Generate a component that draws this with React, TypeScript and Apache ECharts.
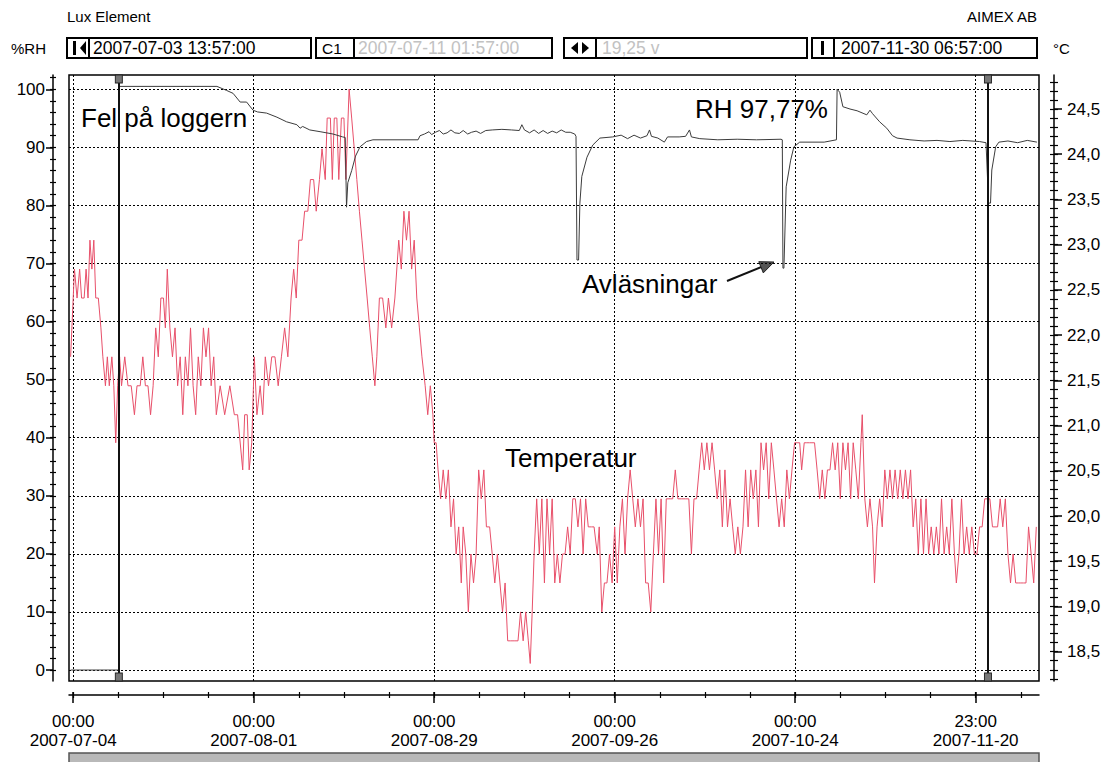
import React, { useEffect, useRef } from "react";
import * as echarts from "echarts";

// ---------- data ----------
const tickDays = [0, 28, 56, 84, 112, 140];
const tickTimes = ["00:00", "00:00", "00:00", "00:00", "00:00", "23:00"];
const tickDates = ["2007-07-04", "2007-08-01", "2007-08-29", "2007-09-26", "2007-10-24", "2007-11-20"];
const rhTicks = [0, 10, 20, 30, 40, 50, 60, 70, 80, 90, 100];
const tempTicks = [18.5, 19.0, 19.5, 20.0, 20.5, 21.0, 21.5, 22.0, 22.5, 23.0, 23.5, 24.0, 24.5];
const cursorDays = [7.08, 141.9];

// temperature (°C) – day offset from 2007-07-04 00:00
const tempDay = [
  -0.4, 0.2, 0.6, 1.0, 1.3, 1.7, 2.0, 2.3, 2.6, 2.9, 3.2, 3.5, 3.9, 4.3, 4.6, 5.0, 5.3, 5.6, 6.0, 6.3, 6.6, 6.9, 7.2,
  7.5, 8.0, 8.5, 9.0, 9.5, 9.9, 10.4, 10.8, 11.2, 11.6, 12.0, 12.4, 12.8, 13.2, 13.6, 14.0, 14.3, 14.6, 15.0, 15.4, 15.8,
  16.2, 16.6, 17.0, 17.4, 17.8, 18.2, 18.6, 19.0, 19.4, 19.8, 20.2, 20.6, 21.0, 21.4, 21.8, 22.2, 22.8, 23.5, 24.3, 25.0,
  25.5, 26.3, 26.6, 27.0, 27.3, 27.7, 28.1, 28.5, 29.0, 29.4, 29.8, 30.3, 30.8, 31.3, 31.8, 32.3, 32.8, 33.3,
  33.8, 34.2, 34.6, 35.0, 35.5, 35.9, 36.4, 36.8, 37.3, 37.7, 38.2, 38.6, 39.1, 39.4, 39.9, 40.2, 40.5, 40.9, 41.2, 41.6,
  42.0, 42.3, 42.8, 43.2, 43.6, 44.0, 44.4, 44.8, 45.2, 45.6, 46.0, 46.4, 46.8, 47.1, 47.5, 48.0, 48.5, 48.9, 49.4, 49.9,
  50.5, 50.9, 51.3, 51.7, 52.1, 52.5, 52.9, 53.3, 53.7, 54.1, 54.6, 55.0, 55.4, 55.8,
  56.0, 56.3, 56.6, 57.0, 57.4, 57.8, 58.2, 58.6, 59.0, 59.4, 59.8, 60.2, 60.5, 60.9, 61.3, 61.7, 62.1, 62.5, 62.9, 63.3,
  63.7, 64.1, 64.6, 65.0, 65.4, 65.8, 66.2, 66.6, 67.0, 67.4, 67.8, 68.4, 69.0, 69.4, 69.8, 70.2, 70.6, 70.9, 71.2, 71.5,
  71.9, 72.3, 72.7, 73.1, 73.5, 73.9, 74.3, 74.7, 75.1, 75.5, 75.9, 76.3, 76.7, 77.1, 77.5, 77.9, 78.3, 78.7, 79.1, 79.5,
  79.9, 80.4, 80.8, 81.3, 81.6, 82.0, 82.4, 82.8, 83.2, 83.6, 84.0, 84.4, 84.8, 85.2, 85.6, 86.0, 86.4, 86.8, 87.2, 87.6,
  88.0, 88.4, 88.8, 89.2, 89.6, 90.0, 90.4, 90.8, 91.2, 91.6, 92.0, 92.6, 93.0, 93.4, 93.8, 94.4, 95.0, 95.5, 95.9, 96.3,
  96.7, 97.1, 97.5, 97.9, 98.3, 98.7, 99.1, 99.5, 99.9, 100.3, 100.7, 101.1, 101.5, 101.9, 102.3, 102.7, 103.1, 103.5,
  103.9, 104.3, 104.7, 105.1, 105.5, 105.9, 106.3, 106.7, 107.1, 107.5, 107.9, 108.3, 108.7, 109.1, 109.5, 109.9, 110.3,
  110.7, 111.1, 111.5, 111.9, 112.3, 112.7, 113.0, 113.4, 113.8, 114.2, 114.6, 115.0, 115.4, 115.8, 116.2, 116.6, 117.0,
  117.4, 117.8, 118.2, 118.6, 119.0, 119.4, 119.8, 120.2, 120.6, 121.0, 121.4, 121.8, 122.2, 122.4, 122.8, 123.2, 123.6,
  124.0, 124.3, 124.7, 125.1, 125.5, 125.9, 126.3, 126.7, 127.1, 127.5, 127.9, 128.3, 128.7, 129.1, 129.5, 129.9, 130.3,
  130.7, 131.1, 131.5, 131.9, 132.3, 132.7, 133.1, 133.5, 133.9, 134.3, 134.7, 135.1, 135.5, 135.9, 136.3, 136.7, 137.0,
  137.4, 137.8, 138.2, 138.6, 139.0, 139.4, 139.8, 140.2, 140.6, 141.0, 141.4, 141.8, 142.2, 142.6, 143.0, 143.4, 143.8,
  144.2, 144.6, 145.0, 145.4, 145.8, 146.2, 146.6, 147.0, 147.4, 147.8, 148.2, 148.6, 149.0, 149.4,
];
const tempC = [
  21.76, 22.73, 22.41, 22.73, 22.41, 22.41, 22.73, 22.41, 23.05, 22.73, 23.05, 22.41, 22.41, 22.08, 21.76, 21.44, 21.76, 21.44, 21.76, 21.44, 20.81, 21.44, 21.76,
  21.44, 21.76, 21.44, 21.44, 21.12, 21.44, 21.44, 21.76, 21.44, 21.44, 21.12, 21.44, 22.08, 21.76, 22.41, 22.41, 22.08, 22.73, 22.08, 21.76, 22.08,
  21.44, 21.76, 21.12, 21.76, 21.44, 22.08, 21.44, 21.12, 21.76, 21.44, 22.08, 21.76, 22.08, 21.44, 21.76, 21.12, 21.44, 21.12, 21.44, 21.12,
  21.12, 20.51, 21.12, 21.12, 20.51, 20.81, 21.76, 21.12, 21.44, 21.12, 21.76, 21.44, 21.76, 21.76, 21.44, 21.76, 22.08, 21.76,
  22.41, 22.73, 22.41, 23.05, 23.05, 23.37, 23.37, 23.72, 23.72, 23.37, 23.72, 24.06, 23.72, 24.40, 24.40, 23.72, 24.40, 24.40, 23.72, 24.40,
  24.40, 23.72, 24.72, 24.40, 24.06, 23.72, 23.37, 23.05, 22.73, 22.41, 22.08, 21.76, 21.44, 21.76, 22.41, 22.41, 22.08, 22.41, 22.08, 22.41,
  23.05, 22.73, 23.37, 23.05, 23.37, 22.73, 23.05, 22.41, 22.08, 21.76, 21.44, 21.12, 21.44, 21.12,
  20.81, 20.81, 20.51, 20.19, 20.51, 20.19, 20.51, 19.88, 20.19, 19.58, 19.88, 19.26, 19.88, 19.58, 18.94, 19.58, 19.26, 19.58, 20.51, 20.19,
  20.51, 19.88, 19.88, 19.58, 19.26, 19.58, 19.26, 18.94, 19.26, 18.62, 18.62, 18.62, 18.62, 18.94, 18.62, 18.94, 18.62, 18.37, 18.94, 19.58,
  20.19, 19.58, 20.19, 19.26, 20.19, 19.58, 20.19, 19.26, 19.58, 19.26, 19.58, 19.58, 19.88, 19.58, 20.19, 20.19, 19.88, 20.19, 19.58, 20.19,
  19.88, 19.88, 19.88, 19.58, 19.88, 18.94, 19.26, 19.26, 19.58, 19.26, 19.88, 19.26, 19.88, 20.19, 19.58, 20.19, 20.51, 20.19, 19.88, 20.19,
  19.88, 20.19, 19.26, 19.26, 18.94, 19.58, 20.19, 19.58, 20.19, 19.26, 20.19, 20.19, 20.19, 20.51, 20.19, 20.19, 20.19, 20.19, 19.58, 20.19,
  20.19, 20.51, 20.81, 20.51, 20.81, 20.51, 20.81, 20.51, 20.19, 20.51, 19.88, 20.51, 19.88, 20.19, 19.88, 19.58, 19.88, 19.58,
  19.88, 20.51, 19.88, 20.51, 20.19, 20.51, 19.88, 20.81, 20.51, 20.81, 20.19, 20.81, 20.51, 20.19, 19.88, 20.19, 19.88,
  20.51, 20.19, 20.51, 20.81, 20.81, 20.81, 20.51, 20.81, 20.81, 20.81, 20.81, 20.81, 20.51, 20.19, 20.51, 20.19, 20.51,
  20.51, 20.81, 20.51, 20.81, 20.19, 20.81, 20.51, 20.81, 20.19, 20.81, 20.51, 20.19, 20.81, 21.12, 20.19, 19.88, 20.19,
  19.88, 19.26, 19.88, 20.19, 19.88, 20.51, 20.19, 20.51, 20.19, 20.51, 20.19, 20.51, 20.19, 20.51, 20.19, 20.51, 19.88,
  20.19, 19.58, 20.19, 19.58, 20.19, 19.58, 19.88, 19.58, 19.88, 19.58, 20.19, 19.58, 19.88, 19.58, 20.19, 19.58, 19.26,
  19.58, 20.19, 19.58, 19.88, 19.58, 19.88, 19.58, 19.58, 19.88, 19.88, 20.19, 20.19, 20.19, 19.88, 19.88, 19.88, 20.19,
  19.88, 20.19, 19.58, 19.26, 19.58, 19.26, 19.26, 19.26, 19.26, 19.26, 19.88, 19.58, 19.26, 19.88,
];

// relative humidity (%RH)
const rhDay = [
  -0.4, 7.08, 7.1, 22.3, 23.8, 24.8, 25.9, 26.9, 27.9, 28.6, 30.0, 31.6, 33.1, 34.7, 35.2, 35.6, 36.7, 38.3, 40.3, 41.8,
  42.2, 42.4, 42.6, 43.2, 43.8, 44.5, 45.5, 46.5, 53.5, 53.8, 54.5, 55.2, 55.6, 56.2, 56.8, 57.4, 58.0, 58.6, 59.2, 59.9,
  60.5, 61.2, 61.8, 62.5, 63.2, 64.0, 65.0, 66.5, 68.0, 69.2, 69.6, 70.0, 70.8, 71.5, 72.2, 72.9, 73.6, 74.3, 75.0, 75.7,
  76.4, 77.1, 77.8, 78.0, 78.15, 78.4, 78.6, 78.9, 79.7, 80.6, 81.7, 83.7, 85.0, 86.0, 87.0, 88.0, 89.0, 89.4, 89.7, 90.7,
  91.7, 92.2, 94.0, 95.0, 95.6, 95.9, 97.2, 100.0, 103.0, 106.0, 109.8, 110.0, 110.1, 110.25, 110.6, 111.3, 111.8, 112.7,
  116.5, 118.4, 118.5, 118.9, 119.4, 120.5, 121.6, 123.1, 123.6, 124.0, 125.1, 126.2, 127.1, 127.8, 129.8, 132.0, 134.0,
  136.0, 138.0, 140.6, 141.6, 142.0, 142.3, 142.5, 143.1, 143.6, 145.0, 146.5, 148.0, 149.5,
];
const rhPct = [
  0, 0, 100.5, 100.5, 99.8, 99.3, 97.8, 97.8, 96.4, 96.1, 95.9, 95.2, 94.4, 93.9, 93.3, 93.6, 93.0, 92.7, 92.3, 91.8,
  91.7, 79.7, 83.9, 86.0, 88.5, 90.1, 91.0, 91.3, 91.3, 92.0, 92.3, 92.7, 92.2, 92.6, 92.9, 92.3, 92.5, 93.0, 92.5, 92.4,
  92.9, 92.3, 92.6, 92.8, 92.4, 92.9, 93.0, 93.1, 93.0, 92.9, 93.9, 93.0, 92.5, 93.0, 92.4, 92.9, 92.4, 92.8, 92.5, 93.0,
  92.6, 92.6, 92.3, 91.9, 70.6, 70.6, 80.4, 85.0, 88.3, 90.4, 91.6, 91.8, 92.1, 91.5, 92.1, 91.6, 92.0, 93.0, 91.9, 91.6,
  90.9, 91.8, 91.8, 91.9, 93.0, 91.8, 91.5, 91.3, 91.4, 91.3, 91.4, 91.3, 69.2, 69.2, 83.2, 87.8, 90.1, 90.9,
  90.9, 91.3, 100.0, 99.5, 97.0, 96.6, 96.3, 95.6, 96.4, 95.8, 94.4, 93.3, 92.0, 91.6, 91.3, 91.1, 91.2,
  91.0, 91.2, 91.0, 90.8, 80.4, 80.4, 86.1, 90.1, 90.9, 91.1, 90.8, 91.2, 90.9,
];

// ---------- layout constants ----------
const X_MIN = -0.65;
const X_MAX = 149.82;
const RH_MIN = -1.89;
const RH_MAX = 102.46;
const T_MIN = 18.176;
const T_MAX = 24.876;
const FONT = "'Liberation Sans', Arial, Helvetica, sans-serif";

function range(a: number, b: number, step: number): number[] {
  const out: number[] = [];
  const n = Math.round((b - a) / step);
  for (let i = 0; i <= n; i++) out.push(Math.round((a + i * step) * 1000) / 1000);
  return out;
}

const xMinor = range(0, 147, 7);
const rhMinor = range(0, 102, 2);
const tMinor = range(18.2, 24.8, 0.1);

function txt(x: number, y: number, text: string, size: number, opts: any = {}) {
  return {
    type: "text",
    x,
    y,
    silent: true,
    style: {
      text,
      fill: opts.fill || "#000",
      font: `${size}px ${FONT}`,
      textAlign: opts.align || "left",
      textVerticalAlign: "middle",
    },
  };
}
function box(x: number, y: number, w: number, h: number) {
  return { type: "rect", shape: { x, y, width: w, height: h }, style: { fill: "none", stroke: "#000", lineWidth: 2 }, silent: true };
}
function vline(x: number, y1: number, y2: number, w = 2) {
  return { type: "line", shape: { x1: x, y1, x2: x, y2 }, style: { stroke: "#000", lineWidth: w }, silent: true };
}

export default function App() {
  const ref = useRef<HTMLDivElement>(null);
  useEffect(() => {
    if (!ref.current) return;
    const chart = echarts.init(ref.current, undefined, { renderer: "svg" });

    const tempData = tempDay.map((d, i) => [d, tempC[i]]);
    const rhData = rhDay.map((d, i) => [d, rhPct[i]]);

    const axisLineStyle = { color: "#000", width: 1.5 };
    const tickStyle = { color: "#000", width: 1.2 };
    const noLine = { show: false, onZero: false };
    const withLine = { show: true, onZero: false, lineStyle: axisLineStyle };

    const baseX = {
      type: "value",
      min: X_MIN,
      max: X_MAX,
      position: "bottom",
      offset: 14,
      splitLine: { show: false },
      axisLabel: { show: false },
      axisLine: noLine,
    };
    const baseRH = {
      type: "value",
      min: RH_MIN,
      max: RH_MAX,
      position: "left",
      offset: 16,
      splitLine: { show: false },
      axisLabel: { show: false },
      axisLine: noLine,
    };
    const baseT = {
      type: "value",
      min: T_MIN,
      max: T_MAX,
      position: "right",
      offset: 15,
      splitLine: { show: false },
      axisLabel: { show: false },
      axisLine: noLine,
    };

    const gridLines = [
      ...rhTicks.map((v) => ({ yAxis: v })),
      ...tickDays.map((d) => ({ xAxis: d })),
    ];

    const option: any = {
      animation: false,
      backgroundColor: "#ffffff",
      textStyle: { fontFamily: FONT },
      grid: { left: 69, right: 70, top: 75, bottom: 81, show: true, borderColor: "#000", borderWidth: 1.5, containLabel: false },
      xAxis: [
        { ...baseX, axisLine: withLine, axisTick: { show: true, length: 3, customValues: xMinor, lineStyle: tickStyle } },
        { ...baseX, axisTick: { show: true, inside: true, length: 3, customValues: xMinor, lineStyle: tickStyle } },
        {
          ...baseX,
          axisTick: { show: true, length: 8, customValues: tickDays, lineStyle: { color: "#000", width: 1.5 } },
          axisLabel: {
            show: true,
            customValues: tickDays,
            margin: 17,
            color: "#000",
            fontSize: 17,
            lineHeight: 19,
            fontFamily: FONT,
            formatter: (v: number) => {
              const i = tickDays.indexOf(Math.round(v));
              return i >= 0 ? `${tickTimes[i]}\n${tickDates[i]}` : "";
            },
          },
        },
        { ...baseX, axisTick: { show: true, inside: true, length: 3, customValues: tickDays, lineStyle: { color: "#000", width: 1.5 } } },
      ],
      yAxis: [
        { ...baseRH, axisLine: withLine, axisTick: { show: true, length: 3, customValues: rhMinor, lineStyle: tickStyle } },
        { ...baseRH, axisTick: { show: true, inside: true, length: 3, customValues: rhMinor, lineStyle: tickStyle } },
        {
          ...baseRH,
          axisTick: { show: true, length: 7, customValues: rhTicks, lineStyle: { color: "#000", width: 1.5 } },
          axisLabel: { show: true, customValues: rhTicks, margin: 8, color: "#000", fontSize: 17, fontFamily: FONT },
        },
        { ...baseT, axisLine: withLine, axisTick: { show: true, length: 4, customValues: tMinor, lineStyle: tickStyle } },
        { ...baseT, axisTick: { show: true, inside: true, length: 4, customValues: tMinor, lineStyle: tickStyle } },
        {
          ...baseT,
          axisTick: { show: true, length: 8, customValues: tempTicks, lineStyle: { color: "#000", width: 1.5 } },
          axisLabel: {
            show: true,
            customValues: tempTicks,
            margin: 13,
            color: "#000",
            fontSize: 17,
            fontFamily: FONT,
            formatter: (v: number) => v.toFixed(1).replace(".", ","),
          },
        },
      ],
      series: [
        {
          name: "%RH",
          type: "line",
          xAxisIndex: 0,
          yAxisIndex: 0,
          data: rhData,
          showSymbol: false,
          symbol: "none",
          z: 3,
          lineStyle: { color: "#3c3c3c", width: 1 },
          markLine: {
            silent: true,
            z: 1,
            symbol: "none",
            label: { show: false },
            lineStyle: { color: "#000", width: 1, type: [2, 2] },
            data: gridLines,
          },
        },
        {
          name: "°C",
          type: "line",
          xAxisIndex: 0,
          yAxisIndex: 3,
          data: tempData,
          showSymbol: false,
          symbol: "none",
          z: 2,
          lineStyle: { color: "#e8506a", width: 1 },
          markLine: {
            silent: true,
            z: 6,
            symbol: "none",
            label: { show: false },
            lineStyle: { color: "#111", width: 2, type: "solid" },
            data: cursorDays.map((d) => ({ xAxis: d })),
          },
          markPoint: {
            silent: true,
            z: 7,
            symbol: "rect",
            symbolSize: [7, 8],
            label: { show: false },
            itemStyle: { color: "#777", borderColor: "#222", borderWidth: 1 },
            data: [
              ...cursorDays.map((d) => ({ coord: [d, T_MAX], symbolOffset: [0, 4] })),
              ...cursorDays.map((d) => ({ coord: [d, T_MIN], symbolOffset: [0, -4] })),
            ],
          },
        },
      ],
      graphic: [
        txt(67, 16, "Lux Element", 15),
        txt(1037, 16, "AIMEX AB", 15, { align: "right" }),
        txt(11, 48, "%RH", 15),
        txt(1053, 48, "°C", 15),
        box(67, 38, 244, 20),
        vline(89, 38, 58),
        { type: "rect", shape: { x: 73, y: 41, width: 3, height: 14 }, style: { fill: "#000" }, silent: true },
        { type: "polygon", shape: { points: [[86, 41], [86, 55], [80, 48]] }, style: { fill: "#000" }, silent: true },
        txt(93, 48, "2007-07-03 13:57:00", 17.5),
        box(316, 38, 236, 20),
        vline(354, 38, 58),
        txt(322, 48, "C1", 15.5),
        txt(358, 48, "2007-07-11 01:57:00", 17.5, { fill: "#c2c2c2" }),
        box(564, 38, 243, 20),
        vline(596, 38, 58),
        { type: "polygon", shape: { points: [[578, 42], [578, 54], [571, 48]] }, style: { fill: "#000" }, silent: true },
        { type: "polygon", shape: { points: [[582, 42], [582, 54], [589, 48]] }, style: { fill: "#000" }, silent: true },
        txt(602, 48, "19,25 v", 17.5, { fill: "#c2c2c2" }),
        box(812, 38, 225, 20),
        vline(834, 38, 58),
        { type: "rect", shape: { x: 821, y: 41, width: 3, height: 14 }, style: { fill: "#000" }, silent: true },
        txt(841, 48, "2007-11-30 06:57:00", 17.5),
        txt(81, 118, "Fel på loggern", 26),
        txt(695, 109, "RH 97,77%", 26),
        txt(582, 284, "Avläsningar", 26),
        txt(505, 458, "Temperatur", 26),
        { type: "line", shape: { x1: 727, y1: 281, x2: 764, y2: 266 }, style: { stroke: "#111", lineWidth: 2 }, silent: true },
        { type: "polygon", shape: { points: [[774, 262], [758.8, 261.7], [763.3, 272.9]] }, style: { fill: "#555", stroke: "#222", lineWidth: 1 }, silent: true },
        { type: "rect", shape: { x: 69, y: 753, width: 970, height: 14 }, style: { fill: "#b9b9b9", stroke: "#555", lineWidth: 1.5 }, silent: true },
      ],
    };

    chart.setOption(option);
    return () => chart.dispose();
  }, []);

  return (
    <div
      ref={ref}
      style={{ position: "fixed", left: 0, top: 0, width: 1109, height: 762, background: "#fff" }}
    />
  );
}
